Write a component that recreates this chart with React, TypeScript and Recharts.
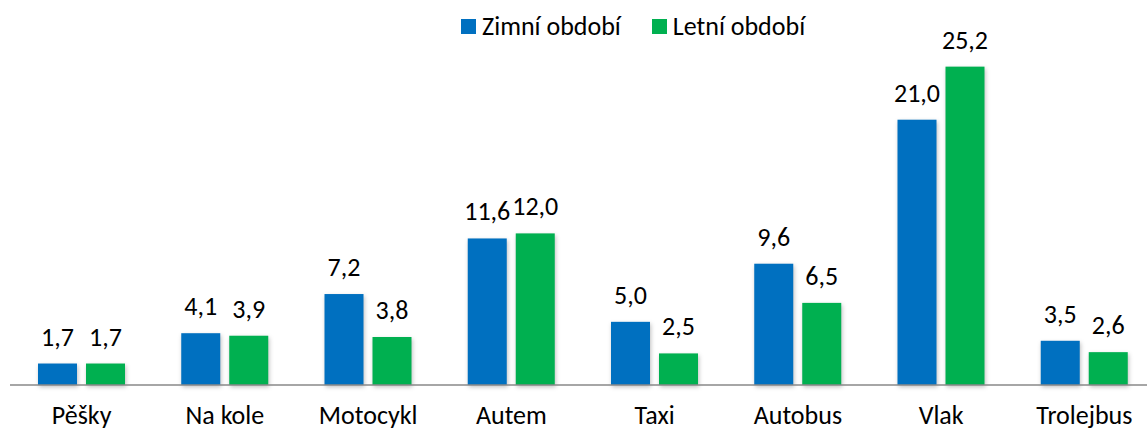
import { BarChart, Bar, XAxis, YAxis, Legend, LabelList } from "recharts";

const categories = ["Pěšky", "Na kole", "Motocykl", "Autem", "Taxi", "Autobus", "Vlak", "Trolejbus"];
const zimni = [1.7, 4.1, 7.2, 11.6, 5.0, 9.6, 21.0, 3.5];
const letni = [1.7, 3.9, 3.8, 12.0, 2.5, 6.5, 25.2, 2.6];

const BLUE = "#0070C0";
const GREEN = "#00B050";
const FONT = 'Carlito, Calibri, "Open Sans", sans-serif';
const FS = 26;

const data = categories.map((name, i) => ({
  name,
  zimni: zimni[i],
  letni: letni[i],
}));

const fmt = (v: any) => Number(v).toFixed(1).replace(".", ",");

function ShadowBar(props: any) {
  const { x, y, width, height, fill } = props;
  return (
    <rect
      x={x}
      y={y}
      width={width}
      height={height}
      fill={fill}
      style={{ filter: "drop-shadow(1px 2px 2px rgba(0,0,0,0.25))" }}
    />
  );
}

function LegendContent() {
  const items = [
    { label: "Zimní období", color: BLUE },
    { label: "Letní období", color: GREEN },
  ];
  return (
    <div style={{ display: "flex", alignItems: "center", fontFamily: FONT, fontSize: FS, color: "#000", whiteSpace: "nowrap" }}>
      {items.map((it, i) => (
        <div key={i} style={{ display: "flex", alignItems: "center", marginRight: i === 0 ? 31 : 0 }}>
          <span style={{ width: 15, height: 15, background: it.color, display: "inline-block", marginRight: 6 }} />
          <span>{it.label}</span>
        </div>
      ))}
    </div>
  );
}

export default function App() {
  return (
    <div style={{ position: "absolute", left: 0, top: 0, width: 1147, height: 428, overflow: "hidden", background: "#fff" }}>
      <BarChart
        width={1156}
        height={428}
        data={data}
        margin={{ top: 6, right: 0, left: 10, bottom: 0 }}
        barGap={9}
        barSize={39}
      >
        <XAxis
          dataKey="name"
          height={43}
          tickLine={false}
          tickSize={0}
          tickMargin={21}
          axisLine={{ stroke: "#898989", strokeWidth: 1.5 }}
          tick={{ fill: "#000", fontSize: FS, fontFamily: FONT }}
          interval={0}
        />
        <YAxis hide domain={[0, 30]} />
        <Legend
          verticalAlign="middle"
          align="center"
          content={<LegendContent />}
          wrapperStyle={{ top: 10, left: 461, width: "auto" }}
        />
        <Bar dataKey="zimni" fill={BLUE} isAnimationActive={false} shape={<ShadowBar />}>
          <LabelList dataKey="zimni" position="top" offset={18} formatter={fmt} style={{ fill: "#000", fontSize: FS, fontFamily: FONT }} />
        </Bar>
        <Bar dataKey="letni" fill={GREEN} isAnimationActive={false} shape={<ShadowBar />}>
          <LabelList dataKey="letni" position="top" offset={18} formatter={fmt} style={{ fill: "#000", fontSize: FS, fontFamily: FONT }} />
        </Bar>
      </BarChart>
    </div>
  );
}
